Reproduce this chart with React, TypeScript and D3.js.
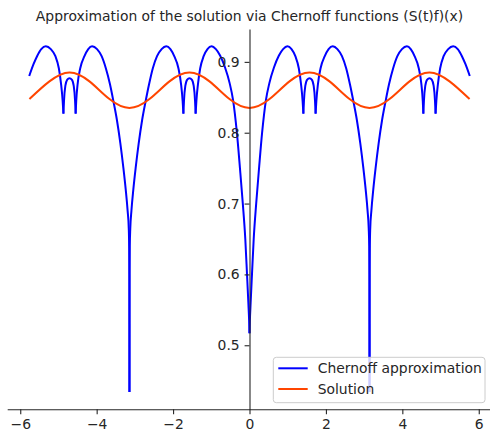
import { useRef, useEffect } from "react";
import * as d3 from "d3";

const TITLE = "Approximation of the solution via Chernoff functions (S(t)f)(x)";

const SERIES = [
  { key: "chernoff", label: "Chernoff approximation", color: "#0000ff" },
  { key: "solution", label: "Solution", color: "#ff4500" },
] as const;

const xTicks = [-6, -4, -2, 0, 2, 4, 6];
const yTicks = [0.5, 0.6, 0.7, 0.8, 0.9];

// Chernoff approximation, split at its cusps ([x, y])
const chernoffArcs: [number, number][][] = [
  [[-5.765, 0.88], [-5.65, 0.897], [-5.56, 0.908], [-5.45, 0.918], [-5.33, 0.922], [-5.2, 0.918], [-5.08, 0.908], [-4.99, 0.891], [-4.93, 0.868], [-4.89, 0.845], [-4.87, 0.827]],
  [[-4.87, 0.827], [-4.855, 0.845], [-4.82, 0.866], [-4.77, 0.875], [-4.712, 0.877], [-4.65, 0.875], [-4.6, 0.866], [-4.565, 0.845], [-4.55, 0.827]],
  [[-4.55, 0.827], [-4.535, 0.845], [-4.5, 0.868], [-4.43, 0.891], [-4.32, 0.908], [-4.22, 0.918], [-4.12, 0.922], [-3.99, 0.918], [-3.87, 0.908], [-3.76, 0.891], [-3.65, 0.868], [-3.56, 0.844], [-3.47, 0.818], [-3.38, 0.785], [-3.3, 0.75], [-3.24, 0.72], [-3.19, 0.69], [-3.16, 0.665], [-3.15, 0.64], [-3.145, 0.6], [-3.143, 0.53], [-3.1416, 0.434]],
  [[-3.1416, 0.434], [-3.14, 0.53], [-3.138, 0.6], [-3.133, 0.64], [-3.12, 0.665], [-3.09, 0.69], [-3.04, 0.72], [-2.98, 0.75], [-2.9, 0.785], [-2.81, 0.818], [-2.72, 0.844], [-2.63, 0.868], [-2.53, 0.891], [-2.42, 0.908], [-2.3, 0.918], [-2.18, 0.922], [-2.07, 0.918], [-1.97, 0.908], [-1.86, 0.891], [-1.79, 0.868], [-1.75, 0.845], [-1.73, 0.827]],
  [[-1.73, 0.827], [-1.715, 0.845], [-1.68, 0.866], [-1.63, 0.875], [-1.571, 0.877], [-1.51, 0.875], [-1.46, 0.866], [-1.425, 0.845], [-1.41, 0.827]],
  [[-1.41, 0.827], [-1.39, 0.845], [-1.35, 0.868], [-1.29, 0.891], [-1.2, 0.908], [-1.1, 0.918], [-0.99, 0.922], [-0.88, 0.918], [-0.77, 0.909], [-0.64, 0.892], [-0.52, 0.87], [-0.43, 0.846], [-0.33, 0.8], [-0.25, 0.75], [-0.175, 0.7], [-0.11, 0.65], [-0.065, 0.6], [-0.03, 0.56], [-0.01, 0.535], [0, 0.517]],
  [[0, 0.517], [0.01, 0.535], [0.03, 0.56], [0.065, 0.6], [0.11, 0.65], [0.175, 0.7], [0.25, 0.75], [0.33, 0.8], [0.43, 0.846], [0.52, 0.87], [0.64, 0.892], [0.77, 0.909], [0.88, 0.918], [0.99, 0.922], [1.1, 0.918], [1.2, 0.908], [1.29, 0.891], [1.35, 0.868], [1.39, 0.845], [1.41, 0.827]],
  [[1.41, 0.827], [1.425, 0.845], [1.46, 0.866], [1.51, 0.875], [1.571, 0.877], [1.63, 0.875], [1.68, 0.866], [1.715, 0.845], [1.73, 0.827]],
  [[1.73, 0.827], [1.75, 0.845], [1.79, 0.868], [1.86, 0.891], [1.97, 0.908], [2.07, 0.918], [2.18, 0.922], [2.3, 0.918], [2.42, 0.908], [2.53, 0.891], [2.63, 0.868], [2.72, 0.844], [2.81, 0.818], [2.9, 0.785], [2.98, 0.75], [3.04, 0.72], [3.09, 0.69], [3.12, 0.665], [3.133, 0.64], [3.138, 0.6], [3.14, 0.53], [3.1416, 0.434]],
  [[3.1416, 0.434], [3.143, 0.53], [3.145, 0.6], [3.15, 0.64], [3.16, 0.665], [3.19, 0.69], [3.24, 0.72], [3.3, 0.75], [3.38, 0.785], [3.47, 0.818], [3.56, 0.844], [3.65, 0.868], [3.76, 0.891], [3.87, 0.908], [3.99, 0.918], [4.12, 0.922], [4.22, 0.918], [4.32, 0.908], [4.43, 0.891], [4.5, 0.868], [4.535, 0.845], [4.55, 0.827]],
  [[4.55, 0.827], [4.565, 0.845], [4.6, 0.866], [4.65, 0.875], [4.712, 0.877], [4.77, 0.875], [4.82, 0.866], [4.855, 0.845], [4.87, 0.827]],
  [[4.87, 0.827], [4.89, 0.845], [4.93, 0.868], [4.99, 0.891], [5.08, 0.908], [5.2, 0.918], [5.33, 0.922], [5.45, 0.918], [5.56, 0.908], [5.65, 0.897], [5.765, 0.88]],
];

// Exact solution, sampled every pi/6
const solutionX = [-5.76, -5.236, -4.712, -4.189, -3.665, -3.142, -2.618, -2.094, -1.571, -1.047, -0.524, 0, 0.524, 1.047, 1.571, 2.094, 2.618, 3.142, 3.665, 4.189, 4.712, 5.236, 5.76];
const solutionY = [0.8475, 0.8725, 0.885, 0.8725, 0.8475, 0.835, 0.8475, 0.8725, 0.885, 0.8725, 0.8475, 0.835, 0.8475, 0.8725, 0.885, 0.8725, 0.8475, 0.835, 0.8475, 0.8725, 0.885, 0.8725, 0.8475];

const W = 490;
const H = 437;
const PLOT = { left: 7.2, right: 491.8, top: 29, bottom: 409.3 };
const FONT = "DejaVu Sans";
const FS = 13.9;
const INK = "#262626";

export default function App() {
  const svgRef = useRef<SVGSVGElement>(null);

  useEffect(() => {
    if (!svgRef.current) return;
    const svg = d3.select(svgRef.current);
    svg.selectAll("*").remove();

    const allPts = chernoffArcs.flat();
    const xExt = d3.extent(allPts, (d) => d[0]) as [number, number];
    const yExt = d3.extent(allPts, (d) => d[1]) as [number, number];
    const xPad = (xExt[1] - xExt[0]) * 0.05;
    const yPad = (yExt[1] - yExt[0]) * 0.05;

    const x = d3.scaleLinear().domain([xExt[0] - xPad, xExt[1] + xPad]).range([PLOT.left, PLOT.right]);
    const y = d3.scaleLinear().domain([yExt[0] - yPad, yExt[1] + yPad]).range([PLOT.bottom, PLOT.top]);

    // Lines
    const line = d3.line<[number, number]>()
      .x((d) => x(d[0]))
      .y((d) => y(d[1]))
      .curve(d3.curveMonotoneX);

    const blue = svg.append("g");
    chernoffArcs.forEach((arc) => {
      blue.append("path")
        .datum(arc)
        .attr("d", line)
        .attr("fill", "none")
        .attr("stroke", SERIES[0].color)
        .attr("stroke-width", 2)
        .attr("stroke-linejoin", "round");
    });

    const sol = solutionX.map((v, i) => [v, solutionY[i]] as [number, number]);
    svg.append("path")
      .datum(sol)
      .attr("d", d3.line<[number, number]>().x((d) => x(d[0])).y((d) => y(d[1])).curve(d3.curveNatural))
      .attr("fill", "none")
      .attr("stroke", SERIES[1].color)
      .attr("stroke-width", 2);

    // Axes (spines through x = 0 and along the bottom)
    const xAxisG = svg.append("g")
      .attr("transform", `translate(0,${PLOT.bottom})`)
      .call(d3.axisBottom(x).tickValues(xTicks).tickSize(4.9).tickPadding(4.9).tickSizeOuter(0).tickFormat(d3.format("d")));

    const yAxisG = svg.append("g")
      .attr("transform", `translate(${x(0)},0)`)
      .call(d3.axisLeft(y).tickValues(yTicks).tickSize(4.9).tickPadding(4.9).tickSizeOuter(0).tickFormat(d3.format(".1f")));

    [xAxisG, yAxisG].forEach((g) => {
      g.attr("font-family", FONT).attr("font-size", FS);
      g.selectAll(".domain").attr("stroke", INK).attr("stroke-width", 1.1);
      g.selectAll(".tick line").attr("stroke", INK).attr("stroke-width", 1.1);
      g.selectAll(".tick text").attr("fill", INK);
    });

    // Title
    svg.append("text")
      .attr("x", (PLOT.left + PLOT.right) / 2)
      .attr("y", 21)
      .attr("text-anchor", "middle")
      .attr("font-family", FONT)
      .attr("font-size", FS)
      .attr("fill", INK)
      .text(TITLE);

    // Legend
    const lg = svg.append("g").attr("transform", `translate(${PLOT.right - 218.5},${PLOT.bottom - 52})`);
    lg.append("rect")
      .attr("width", 211.7)
      .attr("height", 45.4)
      .attr("rx", 3)
      .attr("fill", "#fff")
      .attr("fill-opacity", 0.8)
      .attr("stroke", "#cccccc")
      .attr("stroke-width", 1);

    SERIES.forEach((s, i) => {
      const cy = 11 + i * 20.7;
      lg.append("line")
        .attr("x1", 5).attr("x2", 34.4)
        .attr("y1", cy).attr("y2", cy)
        .attr("stroke", s.color)
        .attr("stroke-width", 2);
      lg.append("text")
        .attr("x", 44.4)
        .attr("y", cy + 5)
        .attr("font-family", FONT)
        .attr("font-size", FS)
        .attr("fill", INK)
        .text(s.label);
    });
  }, []);

  return (
    <svg
      ref={svgRef}
      width={W}
      height={H}
      style={{ position: "absolute", left: 0, top: 0, background: "#fff" }}
    />
  );
}
